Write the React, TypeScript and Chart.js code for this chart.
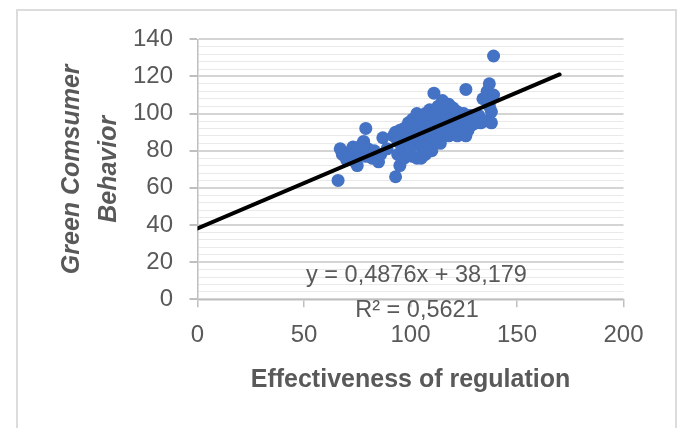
import React, { useEffect, useRef } from "react";
import { Chart, registerables } from "chart.js";

Chart.register(...registerables);

// ---- data ----
const regulation = [
  66, 67, 68, 70, 71, 72, 73, 74, 75, 76, 77, 78, 79, 79, 80, 81, 82, 83, 85, 86, 87, 89,
  93, 95, 94, 97, 99, 101, 103, 105, 107, 110,
  92, 93, 94, 95, 96, 96, 97, 98, 98, 99, 100, 100, 100,
  101, 101, 102, 102, 103, 103, 104, 104, 105, 105, 106, 106, 107, 107, 108, 108, 109, 109, 110, 110, 110,
  111, 111, 111, 112, 112, 113, 113, 114, 114, 115, 115, 116, 116, 117, 117, 118, 118, 119, 119, 120, 120,
  121, 121, 122, 122, 123, 124, 124, 125, 125, 126, 126, 127, 127, 128, 129, 130, 131, 132,
  133, 134, 135, 136, 136, 137, 137, 138, 138, 139, 139,
];
const behavior = [
  64, 81, 78, 75, 79, 77, 82, 74, 72, 80, 83, 85, 92, 77, 81, 78, 76, 80, 74, 78, 87, 81,
  66, 72, 78, 76, 80, 77, 76, 76, 78, 80,
  88, 90, 85, 91, 87, 82, 92, 89, 84, 95, 90, 86, 82,
  97, 93, 88, 84, 95, 100, 91, 86, 98, 82, 94, 89, 100, 85, 96, 92, 88, 102, 98, 94, 84,
  111, 100, 90, 96, 86, 104, 92, 99, 84, 107, 95, 89, 101, 97, 92, 105, 88, 100, 94, 103, 90,
  97, 93, 101, 88, 95, 98, 90, 100, 93, 113, 88, 96, 91, 99, 94, 97, 95, 99,
  95, 108, 96, 109, 112, 116, 104, 95, 101, 110, 131,
];
const trendSlope = 0.4876;
const trendIntercept = 38.179;
const trendRange = [0, 170];
const equationLines = ["y = 0,4876x + 38,179", "R² = 0,5621"];
const xTitle = "Effectiveness of regulation";
const yTitle = ["Green Comsumer", "Behavior"];
const xTickStep = 50;
const yMajorStep = 20;
const yMinorStep = 4;

const GRAY_TEXT = "#595959";
const FONT = "'Liberation Sans', Arial, sans-serif";

const equationPlugin = {
  id: "equationLabel",
  afterDraw(chart: any) {
    const ctx = chart.ctx;
    ctx.save();
    ctx.font = `23.5px ${FONT}`;
    ctx.fillStyle = GRAY_TEXT;
    ctx.textAlign = "center";
    ctx.textBaseline = "middle";
    ctx.fillText(equationLines[0], 416.5, 276);
    ctx.fillText(equationLines[1], 417, 311);
    ctx.restore();
  },
};

export default function App() {
  const ref = useRef<HTMLCanvasElement | null>(null);

  useEffect(() => {
    if (!ref.current) return;
    const points = regulation.map((x, i) => ({ x, y: behavior[i] }));
    const trend = trendRange.map((x) => ({ x, y: trendSlope * x + trendIntercept }));

    const chart = new Chart(ref.current, {
      type: "scatter",
      data: {
        datasets: [
          {
            type: "line",
            data: trend,
            borderColor: "#000000",
            borderWidth: 4,
            borderCapStyle: "round",
            pointRadius: 0,
            fill: false,
            order: 0,
          } as any,
          {
            data: points,
            backgroundColor: "#4472C4",
            borderColor: "#4472C4",
            borderWidth: 0,
            pointRadius: 6.5,
            order: 1,
          },
        ],
      },
      options: {
        responsive: false,
        animation: false,
        devicePixelRatio: 1,
        layout: { padding: { left: 0, top: 39.3, right: 54.5, bottom: 28.7 } },
        plugins: { legend: { display: false }, tooltip: { enabled: false } },
        scales: {
          x: {
            type: "linear",
            min: 0,
            max: 200,
            afterFit: (scale: any) => {
              scale.height = 100;
            },
            ticks: {
              stepSize: xTickStep,
              color: GRAY_TEXT,
              font: { family: FONT, size: 24 },
              padding: 14,
              maxRotation: 0,
            },
            grid: {
              drawOnChartArea: false,
              drawTicks: true,
              tickLength: 8,
              color: "#bfbfbf",
              lineWidth: 1.5,
            },
            border: { color: "#bfbfbf", width: 1.5 },
            title: {
              display: true,
              text: xTitle,
              color: GRAY_TEXT,
              font: { family: FONT, size: 25, weight: "bold" },
              padding: { top: 0, bottom: 4 },
            },
          },
          y: {
            type: "linear",
            min: 0,
            max: 140,
            afterFit: (scale: any) => {
              scale.width = 197.5;
            },
            ticks: {
              stepSize: yMinorStep,
              autoSkip: false,
              color: GRAY_TEXT,
              font: { family: FONT, size: 24 },
              padding: 16.5,
              callback: (v: any) => (Number(v) % yMajorStep === 0 ? String(v) : ""),
            },
            grid: {
              drawTicks: true,
              tickLength: 8,
              color: (c: any) => (c.tick && c.tick.value % yMajorStep === 0 ? "#d4d4d4" : "#e9e9e9"),
              lineWidth: (c: any) => (c.tick && c.tick.value % yMajorStep === 0 ? 2 : 1),
              tickColor: (c: any) => (c.tick && c.tick.value % yMajorStep === 0 ? "#bfbfbf" : "rgba(0,0,0,0)"),
            },
            border: { color: "#bfbfbf", width: 1.5 },
            title: {
              display: true,
              text: yTitle,
              color: GRAY_TEXT,
              font: { family: FONT, size: 25, weight: "bold", style: "italic", lineHeight: 1.48 },
              padding: { top: 53.5, bottom: 0 },
            },
          },
        },
      },
      plugins: [equationPlugin],
    });
    return () => chart.destroy();
  }, []);

  return (
    <div style={{ position: "fixed", left: 0, top: 0, width: 678, height: 428, background: "#fff", overflow: "hidden" }}>
      <div
        style={{
          position: "absolute",
          left: 16,
          top: 9,
          width: 661,
          height: 440,
          border: "2px solid #dcdcdc",
          boxSizing: "border-box",
        }}
      />
      <canvas ref={ref} width={678} height={428} style={{ position: "absolute", left: 0, top: 0, width: 678, height: 428 }} />
    </div>
  );
}
